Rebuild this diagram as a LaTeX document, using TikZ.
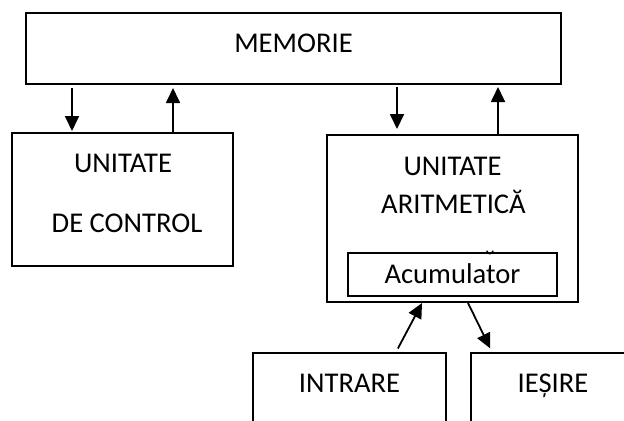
\documentclass[tikz,border=0pt]{standalone}
\usepackage{fontspec}
\setmainfont{Carlito}
\usetikzlibrary{arrows.meta}
\begin{document}
\begin{tikzpicture}[x=0.5pt,y=-0.5pt,font=\fontsize{14.3}{17}\selectfont]
\tikzstyle{box} = [draw, line width=1pt, rectangle, inner sep=0pt] % block frame
\tikzstyle{txt} = [inner sep=0pt, anchor=base] % block caption
\tikzstyle{arr} = [line width=0.9pt, -{Triangle[length=7.5pt,width=7pt]}] % data flow
\useasboundingbox (0,0) rectangle (624,420);
\clip (0,0) rectangle (624,420); % lower blocks run past the page edge
% blocks
\node[box, minimum width=267.5pt, minimum height=35.5pt] (mem) at (293.5,48.5) {};
\node[box, minimum width=110.5pt, minimum height=66.5pt] (ctl) at (122.5,199.5) {};
\node[box, minimum width=125.5pt, minimum height=83.5pt] (alu) at (452.5,218.5) {};
\node[box, minimum width=104.5pt, minimum height=21.5pt] (acc) at (452.5,274.5) {};
\node[box, minimum width=96.5pt, minimum height=53.5pt] (in) at (349.5,406.5) {};
\node[box, minimum width=84.5pt, minimum height=53.5pt] (out) at (555.5,406.5) {};
% captions
\node[txt] (memT) at (293.5,52) {MEMORIE};
\node[txt] (ctlT1) at (123,172) {UNITATE};
\node[txt] (ctlT2) at (127,232) {DE CONTROL};
\node[txt] (aluT1) at (452.5,175) {UNITATE};
\node[txt] (aluT2) at (453.5,213) {ARITMETICĂ};
\node[inner sep=0pt] (aluT3) at (490,261) {˘};
\node[txt] (accT) at (452.5,283) {Acumulator};
\node[txt] (inT) at (349.5,392) {INTRARE};
\node[txt] (outT) at (553,392) {IEȘIRE};
% columns of the vertical arrows
\coordinate (c1) at (72,0);
\coordinate (c2) at (173,0);
\coordinate (c3) at (397,0);
\coordinate (c4) at (498,0);
\draw[arr, shorten <=1.5pt, shorten >=0.5pt] (mem.south -| c1) -- (ctl.north -| c1);
\draw[arr, shorten >=1.5pt] (ctl.north -| c2) -- (mem.south -| c2);
\draw[arr, shorten <=1pt, shorten >=2.5pt] (mem.south -| c3) -- (alu.north -| c3);
\draw[arr, shorten >=1pt] (alu.north -| c4) -- (mem.south -| c4);
% input / output
\draw[arr, shorten <=2pt] ([xshift=72pt]in.north west) -- ([xshift=48pt]alu.south west);
\draw[arr, shorten >=2pt] ([xshift=71pt]alu.south west) -- ([xshift=11pt]out.north west);
\end{tikzpicture}
\end{document}
